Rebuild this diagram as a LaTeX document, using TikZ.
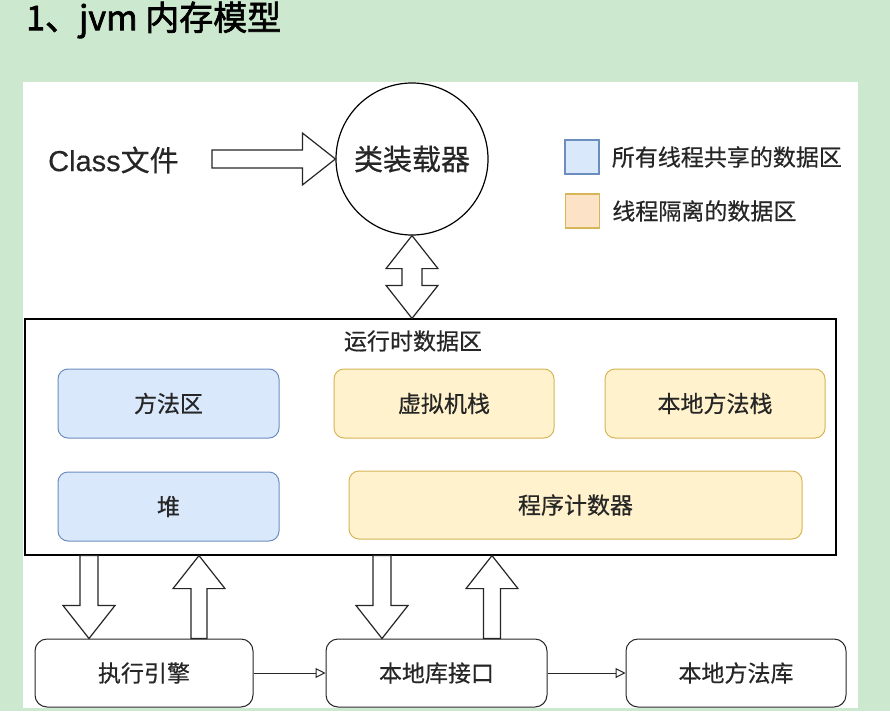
\documentclass[tikz,border=0pt]{standalone}
\usepackage{fontspec}
\setmainfont{Noto Sans CJK SC}[AutoFakeBold=2]
\newfontfamily\boxfont{Noto Sans CJK SC}[FakeBold=0.5]
\newfontfamily\latinfont{Liberation Sans}[FakeBold=0.3]
\usepackage{xcolor}
\usetikzlibrary{positioning, calc, arrows.meta}

\definecolor{bgGreen}{HTML}{CCE8CF}
\definecolor{sharedFill}{HTML}{DAE8FC}
\definecolor{sharedLine}{HTML}{6C8EBF}
\definecolor{privFill}{HTML}{FFF2CC}
\definecolor{privLine}{HTML}{D6B656}
\definecolor{peachFill}{HTML}{FCE3C8}

% hollow fat arrow: [half shaft]{from}{to}
\newcommand{\fatarrow}[3][9pt]{%
  \coordinate (fa) at ($(#3)!33pt!(#2)$);
  \draw[fatline] ($(#2)!#1!90:(#3)$) -- ($(fa)!#1!90:(#3)$) -- ($(fa)!26pt!90:(#3)$) -- (#3)
    -- ($(fa)!26pt!-90:(#3)$) -- ($(fa)!#1!-90:(#3)$) -- ($(#2)!#1!-90:(#3)$) -- cycle;
}
% hollow fat arrow with two heads
\newcommand{\fatdouble}[3][10pt]{%
  \coordinate (fa) at ($(#3)!33pt!(#2)$);
  \coordinate (fb) at ($(#2)!33pt!(#3)$);
  \draw[fatline] (#2) -- ($(fb)!26pt!90:(#3)$) -- ($(fb)!#1!90:(#3)$) -- ($(fa)!#1!90:(#3)$)
    -- ($(fa)!26pt!90:(#3)$) -- (#3) -- ($(fa)!26pt!-90:(#3)$) -- ($(fa)!#1!-90:(#3)$)
    -- ($(fb)!#1!-90:(#3)$) -- ($(fb)!26pt!-90:(#3)$) -- cycle;
}

\begin{document}
\begin{tikzpicture}[x=1pt, y=-1pt, node distance=33pt,
        txt/.style={font=\boxfont\fontsize{23pt}{28pt}\selectfont, text=black!85},
        area/.style={rectangle, draw, txt, rounded corners=10pt, minimum width=221pt, minimum height=69pt, line width=1pt},
        shared/.style={area, fill=sharedFill, draw=sharedLine},
        private/.style={area, fill=privFill, draw=privLine},
        engine/.style={area, draw=black!85, fill=white, rounded corners=12pt, minimum height=68pt},
        key/.style={rectangle, draw, minimum size=34pt, line width=1.3pt},
        fatline/.style={draw=black!85, fill=white, line width=1.2pt, line join=miter},
        line/.style={draw=black!85, -{Triangle[open, length=10pt, width=10pt]}, line width=1pt}]

        % Background
        \fill[bgGreen] (0,0) rectangle (890,711);
        \fill[white] (23,82) rectangle (858,708);

        % Title
        \node[anchor=west, inner sep=0, font=\bfseries\fontsize{34pt}{40pt}\selectfont] (title) at (26,20) {1、jvm 内存模型};

        % Loader and class file
        \node[circle, draw, fill=white, line width=1.2pt, minimum size=152pt, txt, font=\boxfont\fontsize{29pt}{34pt}\selectfont] (loader) at (412,159) {类装载器};
        \node[anchor=west, inner sep=0, txt, font=\boxfont\fontsize{29pt}{34pt}\selectfont] (cls) at (48,160) {{\latinfont Class}文件};

        % Legend
        \node[key, fill=sharedFill, draw=sharedLine] (keyshared) at (582,157) {};
        \node[txt, inner sep=0, right=12pt of keyshared] (keysharedtext) {所有线程共享的数据区};
        \node[key, fill=peachFill, draw=privLine] (keypriv) at (582.5,211) {};
        \node[txt, inner sep=0, right=12pt of keypriv] (keyprivtext) {线程隔离的数据区};

        % Runtime data area
        \node[draw, fill=white, line width=1.2pt, minimum width=811pt, minimum height=236pt] (rt) at (430.5,437) {};
        \node[txt] (rtlabel) at (413,341) {运行时数据区};
        \node[shared] (method) at (168.5,403.5) {方法区};
        \node[shared, below=of method] (heap) {堆};
        \node[private, minimum width=220pt, right=54pt of method] (vmstack) {虚拟机栈};
        \node[private, minimum width=220pt, right=50pt of vmstack] (nstack) {本地方法栈};
        \node[private, minimum width=453pt, minimum height=68pt] (pc) at (575.5,505) {程序计数器};

        % Engine and native parts
        \node[engine, minimum width=218pt] (exec) at (144,673) {执行引擎};
        \node[engine, right=72pt of exec] (nif) {本地库接口};
        \node[engine, minimum width=220pt, right=78pt of nif] (nlib) {本地方法库};

        % Arrow ends
        \coordinate (clsout) at (212,159);
        \coordinate (ldbot) at (loader.south);
        \coordinate (rttop) at (loader.south |- rt.north);
        \coordinate (execin) at ($(exec.north)+(-55,0)$);
        \coordinate (execout) at ($(exec.north)+(55,0)$);
        \coordinate (nifin) at ($(nif.north)+(-54.5,0)$);
        \coordinate (nifout) at ($(nif.north)+(55.5,0)$);
        \coordinate (rtexecin) at (rt.south -| execin);
        \coordinate (rtexecout) at (rt.south -| execout);
        \coordinate (rtnifin) at (rt.south -| nifin);
        \coordinate (rtnifout) at (rt.south -| nifout);

        % Paths
        \fatarrow{clsout}{loader.west}
        \fatdouble{ldbot}{rttop}
        \fatarrow{rtexecin}{execin}
        \fatarrow[8pt]{execout}{rtexecout}
        \fatarrow{rtnifin}{nifin}
        \fatarrow[8.5pt]{nifout}{rtnifout}
        \path[line] (exec) -- (nif);
        \path[line] (nif) -- (nlib);

\end{tikzpicture}
\end{document}
